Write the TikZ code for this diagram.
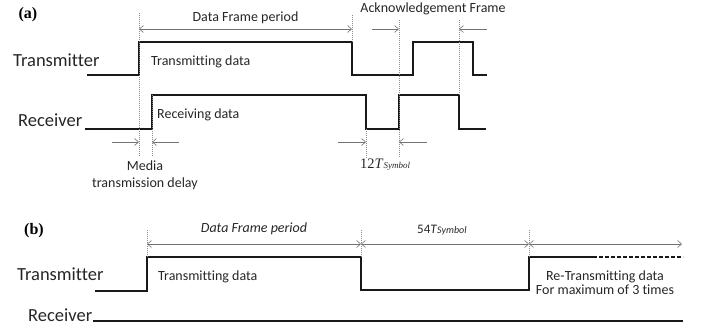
\documentclass[tikz,border=0pt]{standalone}
\usepackage{fontspec}
\setmainfont{Carlito}[Ligatures=NoCommon]
\newfontfamily\serifx{Liberation Serif}
\usetikzlibrary{arrows.meta}
\begin{document}
\begin{tikzpicture}[x=1pt,y=-1pt,
  wave/.style={line width=2.3pt, line join=miter, black!90},
  dotwave/.style={line width=2pt, black!90, dash pattern=on 3.5pt off 2.5pt},
  dim/.style={draw=black!55, line width=0.6pt, {Straight Barb[length=4pt,width=7pt]}-{Straight Barb[length=4pt,width=7pt]}},
  dimr/.style={draw=black!55, line width=0.6pt, -{Straight Barb[length=4pt,width=7pt]}},
  guide/.style={draw=black!45, line width=0.5pt, dash pattern=on 1pt off 1pt},
  big/.style={font=\fontsize{18.5}{20}\selectfont, text=black!85, inner sep=0pt},
  lab/.style={font=\fontsize{14}{16}\selectfont, text=black!85, inner sep=0pt},
  panel/.style={font=\serifx\bfseries\fontsize{16}{18}\selectfont, inner sep=0pt}]
\useasboundingbox (0,0) rectangle (701,326);

% ---------------- (a) ----------------
\node[panel] (pa) at (28,15) {(a)};
\node[big, anchor=base west] (txa) at (13,67) {Transmitter};
\node[big, anchor=base west] (rxa) at (18,127) {Receiver};

% transmitter waveform (a)
\coordinate (ta0) at (87,75);
\coordinate (ta1) at (139,75);
\coordinate (ta2) at (139,42);
\coordinate (ta3) at (352,42);
\coordinate (ta4) at (352,75);
\coordinate (ta5) at (413,75);
\coordinate (ta6) at (413,42);
\coordinate (ta7) at (473,42);
\coordinate (ta8) at (473,75);
\coordinate (ta9) at (487,75);
\draw[wave] (ta0) -- (ta1) -- (ta2) -- (ta3) -- (ta4) -- (ta5) -- (ta6) -- (ta7) -- (ta8) -- (ta9);

% receiver waveform (a)
\coordinate (ra0) at (85,129);
\coordinate (ra1) at (152,129);
\coordinate (ra2) at (152,95);
\coordinate (ra3) at (366,95);
\coordinate (ra4) at (366,129);
\coordinate (ra5) at (399,129);
\coordinate (ra6) at (399,95);
\coordinate (ra7) at (459,95);
\coordinate (ra8) at (459,129);
\coordinate (ra9) at (486,129);
\draw[wave] (ra0) -- (ra1) -- (ra2) -- (ra3) -- (ra4) -- (ra5) -- (ra6) -- (ra7) -- (ra8) -- (ra9);

% guides (a)
\coordinate (g1t) at (139,13);  \coordinate (g1b) at (139,157);
\coordinate (g2b) at (152,157);
\coordinate (g3t) at (352,15);
\coordinate (g4t) at (399,20);  \coordinate (g4b) at (399,158);
\coordinate (g5t) at (459,20);
\coordinate (g6b) at (366,158);
\draw[guide] (g1t) -- (g1b);
\draw[guide] (ra2) -- (g2b);
\draw[guide] (g3t) -- (ta3);
\draw[guide] (g4t) -- (g4b);
\draw[guide] (g5t) -- (ra7);
\draw[guide] (ra4) -- (g6b);

% dimension arrows (a)
\coordinate (d1a) at (139,29); \coordinate (d1b) at (352,29);
\draw[dim] (d1a) -- (d1b);
\coordinate (k1s) at (372,29); \coordinate (k1e) at (399,29);
\coordinate (k2s) at (487,29); \coordinate (k2e) at (459,29);
\draw[dimr] (k1s) -- (k1e);
\draw[dimr] (k2s) -- (k2e);
\coordinate (m1s) at (112,142); \coordinate (m1e) at (139,142);
\coordinate (m2s) at (179,142); \coordinate (m2e) at (152,142);
\draw[dimr] (m1s) -- (m1e);
\draw[dimr] (m2s) -- (m2e);
\coordinate (s1s) at (338,142); \coordinate (s1e) at (366,142);
\coordinate (s2s) at (427,142); \coordinate (s2e) at (399,142);
\draw[dimr] (s1s) -- (s1e);
\draw[dimr] (s2s) -- (s2e);

% labels (a)
\node[lab, anchor=base] (dfa) at (245.5,22) {Data Frame period};
\node[lab, anchor=base] (ack) at (433,13) {Acknowledgement Frame};
\node[lab, anchor=base west] (tda) at (151,66) {Transmitting data};
\node[lab, anchor=base west] (rda) at (157,119) {Receiving data};
\node[lab, anchor=base] (med1) at (145,170) {Media};
\node[lab, anchor=base] (med2) at (145,187) {transmission delay};
\node[inner sep=0pt, anchor=base west, text=black!85] (sym12) at (360,168)
  {\serifx\fontsize{14.5}{16}\selectfont 12\textit{T}{\fontsize{9}{10}\selectfont\textit{Symbol}}};

% ---------------- (b) ----------------
\node[panel] (pb) at (34,231) {(b)};
\node[big, anchor=base west] (txb) at (17,280) {Transmitter};
\node[big, anchor=base west] (rxb) at (28,321) {Receiver};

\coordinate (tb0) at (95,291);
\coordinate (tb1) at (147,291);
\coordinate (tb2) at (147,257);
\coordinate (tb3) at (361,257);
\coordinate (tb4) at (361,290);
\coordinate (tb5) at (529,290);
\coordinate (tb6) at (529,257);
\coordinate (tb7) at (593,257);
\coordinate (tb8) at (683,257);
\draw[wave] (tb0) -- (tb1) -- (tb2) -- (tb3) -- (tb4) -- (tb5) -- (tb6) -- (tb7);
\draw[dotwave] (tb7) -- (tb8);

\coordinate (rb0) at (93,321);
\coordinate (rb1) at (683,321);
\draw[line width=2pt, black!90] (rb0) -- (rb1);

% guides (b)
\coordinate (h1t) at (147,230);
\coordinate (h2t) at (361,230);
\coordinate (h3t) at (529,230);
\draw[guide] (h1t) -- (tb2);
\draw[guide] (h2t) -- (tb3);
\draw[guide] (h3t) -- (tb6);

% dimension arrows (b)
\coordinate (e1) at (147,244);
\coordinate (e2) at (361,244);
\coordinate (e3) at (529,244);
\coordinate (e4) at (682,244);
\draw[dim] (e1) -- (e2);
\draw[dim] (e2) -- (e3);
\draw[dim] (e3) -- (e4);

% labels (b)
\node[lab, anchor=base, font=\fontsize{14}{16}\selectfont\itshape] (dfb) at (254,232) {Data Frame period};
\node[inner sep=0pt, anchor=base west, text=black!85] (sym54) at (417,233)
  {\fontsize{13}{15}\selectfont 54\textit{T}{\fontsize{10}{11}\selectfont\textit{Symbol}}};
\node[lab, anchor=base west] (tdb) at (158,280) {Transmitting data};
\node[lab, anchor=base] (rtd1) at (605,280) {Re-Transmitting data};
\node[lab, anchor=base] (rtd2) at (605,294) {For maximum of 3 times};
\end{tikzpicture}
\end{document}
